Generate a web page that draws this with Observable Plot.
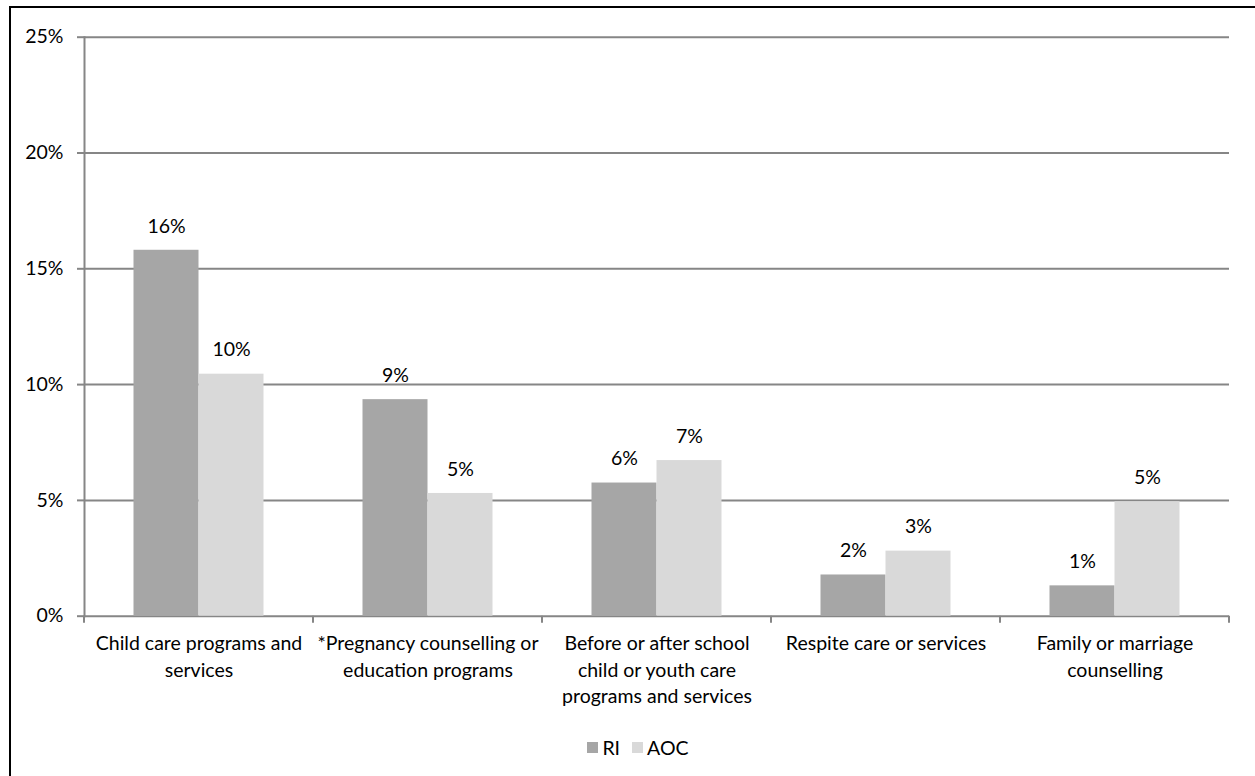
<!DOCTYPE html>
<html>
<head>
<meta charset="utf-8">
<script src="https://cdn.jsdelivr.net/npm/d3@7"></script>
<script src="https://cdn.jsdelivr.net/npm/@observablehq/plot@0.6"></script>
<style>
  html, body { margin: 0; padding: 0; background: #fff; }
  #wrap { position: relative; width: 1255px; height: 776px; overflow: hidden; font-family: Lato, "Noto Sans", sans-serif; }
  #border { position: absolute; left: 9px; top: 6px; width: 1300px; height: 820px; border: 2px solid #000; box-sizing: border-box; }
  #chart { position: absolute; left: 0; top: 0; }
  #legend { position: absolute; left: 0; top: 735px; width: 1276px; text-align: center; font-size: 19.5px; line-height: 22px; color: #000; }
  #legend .item { display: inline-flex; align-items: center; margin: 0 6px; }
  #legend .sw { width: 11px; height: 11px; display: inline-block; margin-right: 4px; }
</style>
</head>
<body>
<div id="wrap">
  <div id="border"></div>
  <div id="chart"></div>
  <div id="legend"></div>
</div>
<script>
const categories = ["Child care", "Pregnancy", "Before/after school", "Respite", "Family/marriage"];
const categoryLabels = [
  "Child care programs and\nservices",
  "*Pregnancy counselling or\neducation programs",
  "Before or after school\nchild or youth care\nprograms and services",
  "Respite care or services",
  "Family or marriage\ncounselling"
];
const seriesNames = ["RI", "AOC"];
const seriesColors = ["#a6a6a6", "#d9d9d9"];
const riValues = [15.8, 9.35, 5.75, 1.78, 1.31];
const aocValues = [10.45, 5.3, 6.72, 2.81, 4.94];
const yTicks = [0, 5, 10, 15, 20, 25];

const rows = categories.flatMap((c, i) => [
  {category: c, series: "RI", value: riValues[i]},
  {category: c, series: "AOC", value: aocValues[i]}
]);
const riRows = rows.filter(d => d.series === "RI");
const aocRows = rows.filter(d => d.series === "AOC");
const labelRows = categories.map((c, i) => ({category: c, label: categoryLabels[i]}));

const gridColor = "#868686";
const fs = 19.5;

function boundaryTicks(index, scales, values, dimensions) {
  const x = scales.x, y = scales.y;
  const plotW = dimensions.width - dimensions.marginLeft - dimensions.marginRight;
  const bw = x.bandwidth ? x.bandwidth() : plotW / categories.length;
  const xs = categories.map(c => x(c));
  xs.push(xs[xs.length - 1] + bw);
  const y0 = y(0);
  const g = d3.create("svg:g");
  g.selectAll("line").data(xs).join("line")
    .attr("x1", d => d).attr("x2", d => d)
    .attr("y1", y0).attr("y2", y0 + 7)
    .attr("stroke", gridColor).attr("stroke-width", 2);
  return g.node();
}

const chart = Plot.plot({
  width: 1255,
  height: 715,
  marginLeft: 84,
  marginRight: 26,
  marginTop: 36.7,
  marginBottom: 99.3,
  style: {fontFamily: "Lato, 'Noto Sans', sans-serif", fontSize: fs + "px", color: "#000", background: "transparent"},
  x: {domain: categories, padding: 0, axis: null},
  y: {domain: [0, 25], axis: null},
  color: {domain: seriesNames, range: seriesColors},
  marks: [
    Plot.gridY(yTicks, {stroke: gridColor, strokeOpacity: 1, strokeWidth: 2}),
    Plot.axisY(yTicks, {label: null, tickSize: 7, tickPadding: 14, stroke: gridColor, strokeWidth: 2, tickFormat: d => d + "%", fontSize: fs}),
    Plot.frame({anchor: "left", stroke: gridColor, strokeWidth: 2}),
    boundaryTicks,
    Plot.barY(riRows, {x: "category", y: "value", fill: "series", insetLeft: 49.5, insetRight: 114.5}),
    Plot.barY(aocRows, {x: "category", y: "value", fill: "series", insetLeft: 114.5, insetRight: 49.5}),
    Plot.text(riRows, {x: "category", y: "value", text: d => Math.round(d.value) + "%", dx: -32.5, dy: -24, fill: "#000", fontSize: fs}),
    Plot.text(aocRows, {x: "category", y: "value", text: d => Math.round(d.value) + "%", dx: 32.5, dy: -24, fill: "#000", fontSize: fs}),
    Plot.text(labelRows, {x: "category", y: () => 0, text: "label", lineAnchor: "top", dy: 15, lineHeight: 1.36, fill: "#000", fontSize: fs})
  ]
});
document.getElementById("chart").appendChild(chart);

const legend = document.getElementById("legend");
seriesNames.forEach((s, i) => {
  const item = document.createElement("span");
  item.className = "item";
  const sw = document.createElement("span");
  sw.className = "sw";
  sw.style.background = seriesColors[i];
  item.appendChild(sw);
  item.appendChild(document.createTextNode(s));
  legend.appendChild(item);
});
</script>
</body>
</html>
